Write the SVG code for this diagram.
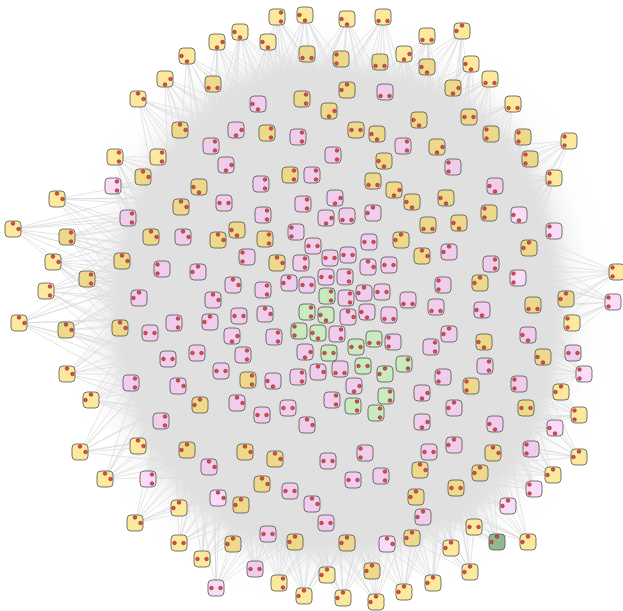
<svg xmlns="http://www.w3.org/2000/svg" width="623" height="611" viewBox="0 0 623 611">
<style>
.e{fill:none;stroke:#d8d8d8;stroke-width:.7}
.y{fill:#fce99d}.k{fill:#eed98b}.p{fill:#f0cdec}.l{fill:#fadcf8}.g{fill:#c9ebbf}.d{fill:#8fb98f}
</style>
<defs>
<filter id="soft" x="-15%" y="-15%" width="130%" height="130%"><feGaussianBlur stdDeviation="7"/></filter>
<filter id="soft2" x="-15%" y="-15%" width="130%" height="130%"><feGaussianBlur stdDeviation="12"/></filter>
<rect id="b" x="-8" y="-8" width="16" height="16" rx="4" stroke="#555" stroke-opacity=".8" stroke-width="1"/>
<g id="d1" fill="#e5484d" stroke="#7d2b2b" stroke-width=".6"><circle cx="4" cy="-4.5" r="1.8"/><circle cx="4" cy="4.5" r="1.8"/></g>
<g id="d2" fill="#e5484d" stroke="#7d2b2b" stroke-width=".6"><circle cx="-5.5" cy="0" r="1.8"/><circle cx="0" cy="5.5" r="1.8"/></g>
<g id="d3" fill="#e5484d" stroke="#7d2b2b" stroke-width=".6"><circle cx="5.5" cy="0" r="1.8"/><circle cx="0" cy="5.5" r="1.8"/></g>
<g id="d4" fill="#e5484d" stroke="#7d2b2b" stroke-width=".6"><circle cx="-4.5" cy="4" r="1.8"/><circle cx="4.5" cy="4" r="1.8"/></g>
<g id="d5" fill="#e5484d" stroke="#7d2b2b" stroke-width=".6"><circle cx="0" cy="-5.5" r="1.8"/><circle cx="5.5" cy="0" r="1.8"/></g>
<g id="d6" fill="#e5484d" stroke="#7d2b2b" stroke-width=".6"><circle cx="-4.5" cy="0" r="1.8"/><circle cx="4.5" cy="0" r="1.8"/></g>
<g id="d7" fill="#e5484d" stroke="#7d2b2b" stroke-width=".6"><circle cx="0" cy="-5.5" r="1.8"/><circle cx="-5.5" cy="0" r="1.8"/></g>
<g id="d8" fill="#e5484d" stroke="#7d2b2b" stroke-width=".6"><circle cx="-4.5" cy="-4.5" r="1.8"/><circle cx="-4.5" cy="4.5" r="1.8"/></g>
</defs>
<rect width="623" height="611" fill="#fff"/>
<g id="connectors">
<path class="e" d="M434 255L277 17L390 211M330 195L277 17L270 211M226 255L277 17L330 315M447 198L277 17L373 156M287 156L277 17L213 198"/>
<path class="e" d="M434 255L305 15L390 211M330 195L305 15L270 211M226 255L305 15L330 315M447 198L305 15L373 156M287 156L305 15L213 198"/>
<path class="e" d="M434 255L347 19L390 211M330 195L347 19L270 211M226 255L347 19L330 315M447 198L347 19L373 156M287 156L347 19L213 198"/>
<path class="e" d="M434 255L383 17L390 211M330 195L383 17L270 211M226 255L383 17L330 315M447 198L383 17L373 156M287 156L383 17L213 198"/>
<path class="e" d="M434 255L268 42L390 211M330 195L268 42L270 211M226 255L268 42L330 315M447 198L268 42L373 156M287 156L268 42L213 198"/>
<path class="e" d="M434 255L307 54L390 211M330 195L307 54L270 211M226 255L307 54L330 315M447 198L307 54L373 156M287 156L307 54L213 198"/>
<path class="e" d="M434 255L341 59L390 211M330 195L341 59L270 211M226 255L341 59L330 315M447 198L341 59L373 156M287 156L341 59L213 198"/>
<path class="e" d="M434 255L380 62L390 211M330 195L380 62L270 211M226 255L380 62L330 315M447 198L380 62L373 156M287 156L380 62L213 198"/>
<path class="e" d="M434 255L347 90L390 211M330 195L347 90L270 211M226 255L347 90L330 315M447 198L347 90L373 156M287 156L347 90L213 198"/>
<path class="e" d="M434 255L302 99L390 211M330 195L302 99L270 211M226 255L302 99L330 315M447 198L302 99L373 156M287 156L302 99L213 198"/>
<path class="e" d="M390 211L240 32L330 195M270 211L240 32L226 255M210 315L240 32L330 315M373 156L240 32L287 156M213 198L240 32L171 272"/>
<path class="e" d="M390 211L217 42L330 195M270 211L217 42L226 255M210 315L217 42L330 315M373 156L217 42L287 156M213 198L217 42L171 272"/>
<path class="e" d="M390 211L187 56L330 195M270 211L187 56L226 255M210 315L187 56L330 315M373 156L187 56L287 156M213 198L187 56L171 272"/>
<path class="e" d="M390 211L165 79L330 195M270 211L165 79L226 255M210 315L165 79L330 315M373 156L165 79L287 156M213 198L165 79L171 272"/>
<path class="e" d="M390 211L213 84L330 195M270 211L213 84L226 255M210 315L213 84L330 315M373 156L213 84L287 156M213 198L213 84L171 272"/>
<path class="e" d="M390 211L138 99L330 195M270 211L138 99L226 255M210 315L138 99L330 315M373 156L138 99L287 156M213 198L138 99L171 272"/>
<path class="e" d="M390 211L180 130L330 195M270 211L180 130L226 255M210 315L180 130L330 315M373 156L180 130L287 156M213 198L180 130L171 272"/>
<path class="e" d="M450 315L427 36L434 255M390 211L427 36L330 195M270 211L427 36L330 315M489 272L427 36L447 198M373 156L427 36L287 156"/>
<path class="e" d="M450 315L462 31L434 255M390 211L462 31L330 195M270 211L462 31L330 315M489 272L462 31L447 198M373 156L462 31L287 156"/>
<path class="e" d="M450 315L404 54L434 255M390 211L404 54L330 195M270 211L404 54L330 315M489 272L404 54L447 198M373 156L404 54L287 156"/>
<path class="e" d="M450 315L427 67L434 255M390 211L427 67L330 195M270 211L427 67L330 315M489 272L427 67L447 198M373 156L427 67L287 156"/>
<path class="e" d="M450 315L471 64L434 255M390 211L471 64L330 195M270 211L471 64L330 315M489 272L471 64L447 198M373 156L471 64L287 156"/>
<path class="e" d="M450 315L490 79L434 255M390 211L490 79L330 195M270 211L490 79L330 315M489 272L490 79L447 198M373 156L490 79L287 156"/>
<path class="e" d="M450 315L453 88L434 255M390 211L453 88L330 195M270 211L453 88L330 315M489 272L453 88L447 198M373 156L453 88L287 156"/>
<path class="e" d="M450 315L513 104L434 255M390 211L513 104L330 195M270 211L513 104L330 315M489 272L513 104L447 198M373 156L513 104L287 156"/>
<path class="e" d="M450 315L469 117L434 255M390 211L469 117L330 195M270 211L469 117L330 315M489 272L469 117L447 198M373 156L469 117L287 156"/>
<path class="e" d="M450 315L491 134L434 255M390 211L491 134L330 195M270 211L491 134L330 315M489 272L491 134L447 198M373 156L491 134L287 156"/>
<path class="e" d="M434 375L523 137L450 315M434 255L523 137L390 211M330 195L523 137L330 315M489 358L523 137L489 272M447 198L523 137L373 156"/>
<path class="e" d="M434 375L569 141L450 315M434 255L569 141L390 211M330 195L569 141L330 315M489 358L569 141L489 272M447 198L569 141L373 156"/>
<path class="e" d="M434 375L530 159L450 315M434 255L530 159L390 211M330 195L530 159L330 315M489 358L530 159L489 272M447 198L530 159L373 156"/>
<path class="e" d="M434 375L554 178L450 315M434 255L554 178L390 211M330 195L554 178L330 315M489 358L554 178L489 272M447 198L554 178L373 156"/>
<path class="e" d="M434 375L554 231L450 315M434 255L554 231L390 211M330 195L554 231L330 315M489 358L554 231L489 272M447 198L554 231L373 156"/>
<path class="e" d="M434 375L529 248L450 315M434 255L529 248L390 211M330 195L529 248L330 315M489 358L529 248L489 272M447 198L529 248L373 156"/>
<path class="e" d="M330 195L115 157L270 211M226 255L115 157L210 315M226 375L115 157L330 315M287 156L115 157L213 198M171 272L115 157L171 358"/>
<path class="e" d="M330 195L158 157L270 211M226 255L158 157L210 315M226 375L158 157L330 315M287 156L158 157L213 198M171 272L158 157L171 358"/>
<path class="e" d="M330 195L143 177L270 211M226 255L143 177L210 315M226 375L143 177L330 315M287 156L143 177L213 198M171 272L143 177L171 358"/>
<path class="e" d="M330 195L113 186L270 211M226 255L113 186L210 315M226 375L113 186L330 315M287 156L113 186L213 198M171 272L113 186L171 358"/>
<path class="e" d="M330 195L57 199L270 211M226 255L57 199L210 315M226 375L57 199L330 315M287 156L57 199L213 198M171 272L57 199L171 358"/>
<path class="e" d="M330 195L128 218L270 211M226 255L128 218L210 315M226 375L128 218L330 315M287 156L128 218L213 198M171 272L128 218L171 358"/>
<path class="e" d="M330 195L13 229L270 211M226 255L13 229L210 315M226 375L13 229L330 315M287 156L13 229L213 198M171 272L13 229L171 358"/>
<path class="e" d="M330 195L67 237L270 211M226 255L67 237L210 315M226 375L67 237L330 315M287 156L67 237L213 198M171 272L67 237L171 358"/>
<path class="e" d="M270 211L53 262L226 255M210 315L53 262L226 375M270 419L53 262L330 315M213 198L53 262L171 272M171 358L53 262L213 432"/>
<path class="e" d="M270 211L122 261L226 255M210 315L122 261L226 375M270 419L122 261L330 315M213 198L122 261L171 272M171 358L122 261L213 432"/>
<path class="e" d="M270 211L87 279L226 255M210 315L87 279L226 375M270 419L87 279L330 315M213 198L87 279L171 272M171 358L87 279L213 432"/>
<path class="e" d="M270 211L46 291L226 255M210 315L46 291L226 375M270 419L46 291L330 315M213 198L46 291L171 272M171 358L46 291L213 432"/>
<path class="e" d="M270 211L19 323L226 255M210 315L19 323L226 375M270 419L19 323L330 315M213 198L19 323L171 272M171 358L19 323L213 432"/>
<path class="e" d="M270 211L66 330L226 255M210 315L66 330L226 375M270 419L66 330L330 315M213 198L66 330L171 272M171 358L66 330L213 432"/>
<path class="e" d="M270 211L120 328L226 255M210 315L120 328L226 375M270 419L120 328L330 315M213 198L120 328L171 272M171 358L120 328L213 432"/>
<path class="e" d="M270 211L67 374L226 255M210 315L67 374L226 375M270 419L67 374L330 315M213 198L67 374L171 272M171 358L67 374L213 432"/>
<path class="e" d="M390 419L617 272L434 375M450 315L617 272L434 255M390 211L617 272L330 315M447 432L617 272L489 358M489 272L617 272L447 198"/>
<path class="e" d="M390 419L566 299L434 375M450 315L566 299L434 255M390 211L566 299L330 315M447 432L566 299L489 358M489 272L566 299L447 198"/>
<path class="e" d="M390 419L613 302L434 375M450 315L613 302L434 255M390 211L613 302L330 315M447 432L613 302L489 358M489 272L613 302L447 198"/>
<path class="e" d="M390 419L572 323L434 375M450 315L572 323L434 255M390 211L572 323L330 315M447 432L572 323L489 358M489 272L572 323L447 198"/>
<path class="e" d="M390 419L573 353L434 375M450 315L573 353L434 255M390 211L573 353L330 315M447 432L573 353L489 358M489 272L573 353L447 198"/>
<path class="e" d="M390 419L584 374L434 375M450 315L584 374L434 255M390 211L584 374L330 315M447 432L584 374L489 358M489 272L584 374L447 198"/>
<path class="e" d="M226 255L131 383L210 315M226 375L131 383L270 419M330 435L131 383L330 315M171 272L131 383L171 358M213 432L131 383L287 474"/>
<path class="e" d="M226 255L91 400L210 315M226 375L91 400L270 419M330 435L91 400L330 315M171 272L91 400L171 358M213 432L91 400L287 474"/>
<path class="e" d="M226 255L80 452L210 315M226 375L80 452L270 419M330 435L80 452L330 315M171 272L80 452L171 358M213 432L80 452L287 474"/>
<path class="e" d="M226 255L138 446L210 315M226 375L138 446L270 419M330 435L138 446L330 315M171 272L138 446L171 358M213 432L138 446L287 474"/>
<path class="e" d="M226 255L105 479L210 315M226 375L105 479L270 419M330 435L105 479L330 315M171 272L105 479L171 358M213 432L105 479L287 474"/>
<path class="e" d="M226 255L148 479L210 315M226 375L148 479L270 419M330 435L148 479L330 315M171 272L148 479L171 358M213 432L148 479L287 474"/>
<path class="e" d="M330 435L561 392L390 419M434 375L561 392L450 315M434 255L561 392L330 315M373 474L561 392L447 432M489 358L561 392L489 272"/>
<path class="e" d="M330 435L579 415L390 419M434 375L579 415L450 315M434 255L579 415L330 315M373 474L579 415L447 432M489 358L579 415L489 272"/>
<path class="e" d="M330 435L555 428L390 419M434 375L555 428L450 315M434 255L555 428L330 315M373 474L555 428L447 432M489 358L555 428L489 272"/>
<path class="e" d="M330 435L579 457L390 419M434 375L579 457L450 315M434 255L579 457L330 315M373 474L579 457L447 432M489 358L579 457L489 272"/>
<path class="e" d="M330 435L553 475L390 419M434 375L553 475L450 315M434 255L553 475L330 315M373 474L553 475L447 432M489 358L553 475L489 272"/>
<path class="e" d="M330 435L534 489L390 419M434 375L534 489L450 315M434 255L534 489L330 315M373 474L534 489L447 432M489 358L534 489L489 272"/>
<path class="e" d="M330 435L531 449L390 419M434 375L531 449L450 315M434 255L531 449L330 315M373 474L531 449L447 432M489 358L531 449L489 272"/>
<path class="e" d="M270 419L508 506L330 435M390 419L508 506L434 375M450 315L508 506L330 315M287 474L508 506L373 474M447 432L508 506L489 358"/>
<path class="e" d="M270 419L474 527L330 435M390 419L474 527L434 375M450 315L474 527L330 315M287 474L474 527L373 474M447 432L474 527L489 358"/>
<path class="e" d="M270 419L497 542L330 435M390 419L497 542L434 375M450 315L497 542L330 315M287 474L497 542L373 474M447 432L497 542L489 358"/>
<path class="e" d="M270 419L528 542L330 435M390 419L528 542L434 375M450 315L528 542L330 315M287 474L528 542L373 474M447 432L528 542L489 358"/>
<path class="e" d="M270 419L451 548L330 435M390 419L451 548L434 375M450 315L451 548L330 315M287 474L451 548L373 474M447 432L451 548L489 358"/>
<path class="e" d="M270 419L470 572L330 435M390 419L470 572L434 375M450 315L470 572L330 315M287 474L470 572L373 474M447 432L470 572L489 358"/>
<path class="e" d="M270 419L433 583L330 435M390 419L433 583L434 375M450 315L433 583L330 315M287 474L433 583L373 474M447 432L433 583L489 358"/>
<path class="e" d="M270 419L404 592L330 435M390 419L404 592L434 375M450 315L404 592L330 315M287 474L404 592L373 474M447 432L404 592L489 358"/>
<path class="e" d="M270 419L412 538L330 435M390 419L412 538L434 375M450 315L412 538L330 315M287 474L412 538L373 474M447 432L412 538L489 358"/>
<path class="e" d="M210 315L179 508L226 375M270 419L179 508L330 435M390 419L179 508L330 315M171 358L179 508L213 432M287 474L179 508L373 474"/>
<path class="e" d="M210 315L135 523L226 375M270 419L135 523L330 435M390 419L135 523L330 315M171 358L135 523L213 432M287 474L135 523L373 474"/>
<path class="e" d="M210 315L233 544L226 375M270 419L233 544L330 435M390 419L233 544L330 315M171 358L233 544L213 432M287 474L233 544L373 474"/>
<path class="e" d="M210 315L179 543L226 375M270 419L179 543L330 435M390 419L179 543L330 315M171 358L179 543L213 432M287 474L179 543L373 474"/>
<path class="e" d="M210 315L202 559L226 375M270 419L202 559L330 435M390 419L202 559L330 315M171 358L202 559L213 432M287 474L202 559L373 474"/>
<path class="e" d="M210 315L255 569L226 375M270 419L255 569L330 435M390 419L255 569L330 315M171 358L255 569L213 432M287 474L255 569L373 474"/>
<path class="e" d="M210 315L216 588L226 375M270 419L216 588L330 435M390 419L216 588L330 315M171 358L216 588L213 432M287 474L216 588L373 474"/>
<path class="e" d="M226 375L327 575L270 419M330 435L327 575L390 419M434 375L327 575L330 315M213 432L327 575L287 474M373 474L327 575L447 432"/>
<path class="e" d="M226 375L372 571L270 419M330 435L372 571L390 419M434 375L372 571L330 315M213 432L372 571L287 474M373 474L372 571L447 432"/>
<path class="e" d="M226 375L279 583L270 419M330 435L279 583L390 419M434 375L279 583L330 315M213 432L279 583L287 474M373 474L279 583L447 432"/>
<path class="e" d="M226 375L304 596L270 419M330 435L304 596L390 419M434 375L304 596L330 315M213 432L304 596L287 474M373 474L304 596L447 432"/>
<path class="e" d="M226 375L343 598L270 419M330 435L343 598L390 419M434 375L343 598L330 315M213 432L343 598L287 474M373 474L343 598L447 432"/>
<path class="e" d="M226 375L376 602L270 419M330 435L376 602L390 419M434 375L376 602L330 315M213 432L376 602L287 474M373 474L376 602L447 432"/>
<path class="e" d="M226 375L295 542L270 419M330 435L295 542L390 419M434 375L295 542L330 315M213 432L295 542L287 474M373 474L295 542L447 432"/>
<path class="e" d="M226 375L347 543L270 419M330 435L347 543L390 419M434 375L347 543L330 315M213 432L347 543L287 474M373 474L347 543L447 432"/>
<path class="e" d="M226 375L387 544L270 419M330 435L387 544L390 419M434 375L387 544L330 315M213 432L387 544L287 474M373 474L387 544L447 432"/>
<path id="haze" d="M217 69L285 41L352 46L419 57L475 80L520 119L553 169L574 231L582 298L576 365L559 427L531 483L486 528L430 556L363 573L296 573L234 556L184 522L145 477L117 421L96 360L92 293L103 231L128 169L167 113Z" fill="#e0e0e0" fill-opacity=".4" filter="url(#soft2)"/>
<path id="core" d="M226 86L288 60L351 65L413 76L465 97L507 133L538 180L557 237L565 299L559 362L543 419L517 471L475 513L423 539L361 554L299 554L241 539L195 507L158 466L132 414L113 357L109 294L120 237L143 180L179 128Z" fill="#e0e0e0" filter="url(#soft)"/>
</g>
<g id="nodes">
<g id="n1" transform="translate(277 17)"><use href="#b" class="y"/><use href="#d1"/></g>
<g id="n2" transform="translate(305 15)"><use href="#b" class="y"/><use href="#d2"/></g>
<g id="n3" transform="translate(347 19)"><use href="#b" class="y"/><use href="#d2"/></g>
<g id="n4" transform="translate(383 17)"><use href="#b" class="y"/><use href="#d4"/></g>
<g id="n5" transform="translate(240 32)"><use href="#b" class="y"/><use href="#d2"/></g>
<g id="n6" transform="translate(268 42)"><use href="#b" class="y"/><use href="#d2"/></g>
<g id="n7" transform="translate(217 42)"><use href="#b" class="y"/><use href="#d3"/></g>
<g id="n8" transform="translate(427 36)"><use href="#b" class="y"/><use href="#d4"/></g>
<g id="n9" transform="translate(462 31)"><use href="#b" class="y"/><use href="#d7"/></g>
<g id="n10" transform="translate(307 54)"><use href="#b" class="k"/><use href="#d4"/></g>
<g id="n11" transform="translate(187 56)"><use href="#b" class="y"/><use href="#d2"/></g>
<g id="n12" transform="translate(341 59)"><use href="#b" class="k"/><use href="#d8"/></g>
<g id="n13" transform="translate(380 62)"><use href="#b" class="k"/><use href="#d4"/></g>
<g id="n14" transform="translate(404 54)"><use href="#b" class="y"/><use href="#d3"/></g>
<g id="n15" transform="translate(427 67)"><use href="#b" class="k"/><use href="#d2"/></g>
<g id="n16" transform="translate(471 64)"><use href="#b" class="y"/><use href="#d2"/></g>
<g id="n17" transform="translate(165 79)"><use href="#b" class="y"/><use href="#d3"/></g>
<g id="n18" transform="translate(213 84)"><use href="#b" class="k"/><use href="#d4"/></g>
<g id="n19" transform="translate(490 79)"><use href="#b" class="y"/><use href="#d4"/></g>
<g id="n20" transform="translate(347 90)"><use href="#b" class="k"/><use href="#d7"/></g>
<g id="n21" transform="translate(385 92)"><use href="#b" class="p"/><use href="#d4"/></g>
<g id="n22" transform="translate(453 88)"><use href="#b" class="k"/><use href="#d3"/></g>
<g id="n23" transform="translate(138 99)"><use href="#b" class="y"/><use href="#d5"/></g>
<g id="n24" transform="translate(302 99)"><use href="#b" class="k"/><use href="#d1"/></g>
<g id="n25" transform="translate(258 104)"><use href="#b" class="p"/><use href="#d2"/></g>
<g id="n26" transform="translate(513 104)"><use href="#b" class="y"/><use href="#d4"/></g>
<g id="n27" transform="translate(329 111)"><use href="#b" class="k"/><use href="#d3"/></g>
<g id="n28" transform="translate(419 120)"><use href="#b" class="k"/><use href="#d2"/></g>
<g id="n29" transform="translate(469 117)"><use href="#b" class="k"/><use href="#d6"/></g>
<g id="n30" transform="translate(180 130)"><use href="#b" class="k"/><use href="#d5"/></g>
<g id="n31" transform="translate(236 130)"><use href="#b" class="p"/><use href="#d3"/></g>
<g id="n32" transform="translate(267 133)"><use href="#b" class="k"/><use href="#d1"/></g>
<g id="n33" transform="translate(298 137)"><use href="#b" class="p"/><use href="#d1"/></g>
<g id="n34" transform="translate(356 130)"><use href="#b" class="k"/><use href="#d6"/></g>
<g id="n35" transform="translate(377 134)"><use href="#b" class="k"/><use href="#d2"/></g>
<g id="n36" transform="translate(491 134)"><use href="#b" class="k"/><use href="#d8"/></g>
<g id="n37" transform="translate(523 137)"><use href="#b" class="k"/><use href="#d8"/></g>
<g id="n38" transform="translate(569 141)"><use href="#b" class="y"/><use href="#d8"/></g>
<g id="n39" transform="translate(211 146)"><use href="#b" class="p"/><use href="#d1"/></g>
<g id="n40" transform="translate(403 146)"><use href="#b" class="p"/><use href="#d1"/></g>
<g id="n41" transform="translate(437 147)"><use href="#b" class="k"/><use href="#d3"/></g>
<g id="n42" transform="translate(115 157)"><use href="#b" class="y"/><use href="#d1"/></g>
<g id="n43" transform="translate(158 157)"><use href="#b" class="y"/><use href="#d1"/></g>
<g id="n44" transform="translate(333 155)"><use href="#b" class="p"/><use href="#d1"/></g>
<g id="n45" transform="translate(226 165)"><use href="#b" class="p"/><use href="#d3"/></g>
<g id="n46" transform="translate(530 159)"><use href="#b" class="k"/><use href="#d8"/></g>
<g id="n47" transform="translate(384 161)"><use href="#b" class="k"/><use href="#d2"/></g>
<g id="n48" transform="translate(453 167)"><use href="#b" class="p"/><use href="#d8"/></g>
<g id="n49" transform="translate(143 177)"><use href="#b" class="k"/><use href="#d5"/></g>
<g id="n50" transform="translate(290 175)"><use href="#b" class="k"/><use href="#d1"/></g>
<g id="n51" transform="translate(312 175)"><use href="#b" class="p"/><use href="#d1"/></g>
<g id="n52" transform="translate(554 178)"><use href="#b" class="y"/><use href="#d8"/></g>
<g id="n53" transform="translate(373 181)"><use href="#b" class="k"/><use href="#d4"/></g>
<g id="n54" transform="translate(113 186)"><use href="#b" class="l"/><use href="#d1"/></g>
<g id="n55" transform="translate(199 187)"><use href="#b" class="k"/><use href="#d2"/></g>
<g id="n56" transform="translate(261 184)"><use href="#b" class="p"/><use href="#d1"/></g>
<g id="n57" transform="translate(394 190)"><use href="#b" class="k"/><use href="#d3"/></g>
<g id="n58" transform="translate(495 186)"><use href="#b" class="p"/><use href="#d2"/></g>
<g id="n59" transform="translate(57 199)"><use href="#b" class="y"/><use href="#d5"/></g>
<g id="n60" transform="translate(181 207)"><use href="#b" class="k"/><use href="#d5"/></g>
<g id="n61" transform="translate(224 203)"><use href="#b" class="p"/><use href="#d6"/></g>
<g id="n62" transform="translate(303 204)"><use href="#b" class="p"/><use href="#d1"/></g>
<g id="n63" transform="translate(335 198)"><use href="#b" class="p"/><use href="#d3"/></g>
<g id="n64" transform="translate(412 202)"><use href="#b" class="k"/><use href="#d2"/></g>
<g id="n65" transform="translate(446 198)"><use href="#b" class="k"/><use href="#d2"/></g>
<g id="n66" transform="translate(128 218)"><use href="#b" class="p"/><use href="#d1"/></g>
<g id="n67" transform="translate(263 215)"><use href="#b" class="p"/><use href="#d1"/></g>
<g id="n68" transform="translate(373 213)"><use href="#b" class="p"/><use href="#d7"/></g>
<g id="n69" transform="translate(326 218)"><use href="#b" class="p"/><use href="#d3"/></g>
<g id="n70" transform="translate(347 216)"><use href="#b" class="p"/><use href="#d4"/></g>
<g id="n71" transform="translate(489 213)"><use href="#b" class="k"/><use href="#d8"/></g>
<g id="n72" transform="translate(519 215)"><use href="#b" class="l"/><use href="#d2"/></g>
<g id="n73" transform="translate(13 229)"><use href="#b" class="y"/><use href="#d5"/></g>
<g id="n74" transform="translate(67 237)"><use href="#b" class="k"/><use href="#d1"/></g>
<g id="n75" transform="translate(151 237)"><use href="#b" class="k"/><use href="#d5"/></g>
<g id="n76" transform="translate(183 237)"><use href="#b" class="p"/><use href="#d5"/></g>
<g id="n77" transform="translate(237 230)"><use href="#b" class="k"/><use href="#d2"/></g>
<g id="n78" transform="translate(218 240)"><use href="#b" class="k"/><use href="#d5"/></g>
<g id="n79" transform="translate(265 239)"><use href="#b" class="k"/><use href="#d1"/></g>
<g id="n80" transform="translate(296 232)"><use href="#b" class="p"/><use href="#d8"/></g>
<g id="n81" transform="translate(428 225)"><use href="#b" class="k"/><use href="#d4"/></g>
<g id="n82" transform="translate(459 223)"><use href="#b" class="k"/><use href="#d2"/></g>
<g id="n83" transform="translate(554 231)"><use href="#b" class="l"/><use href="#d8"/></g>
<g id="n84" transform="translate(313 246)"><use href="#b" class="p"/><use href="#d6"/></g>
<g id="n85" transform="translate(369 242)"><use href="#b" class="p"/><use href="#d6"/></g>
<g id="n86" transform="translate(401 240)"><use href="#b" class="k"/><use href="#d7"/></g>
<g id="n87" transform="translate(529 248)"><use href="#b" class="k"/><use href="#d7"/></g>
<g id="n88" transform="translate(449 252)"><use href="#b" class="p"/><use href="#d7"/></g>
<g id="n89" transform="translate(247 257)"><use href="#b" class="p"/><use href="#d8"/></g>
<g id="n90" transform="translate(277 263)"><use href="#b" class="k"/><use href="#d5"/></g>
<g id="n91" transform="translate(301 263)"><use href="#b" class="p"/><use href="#d1"/></g>
<g id="n92" transform="translate(348 255)"><use href="#b" class="p"/><use href="#d6"/></g>
<g id="n93" transform="translate(330 258)"><use href="#b" class="p"/><use href="#d6"/></g>
<g id="n94" transform="translate(422 256)"><use href="#b" class="k"/><use href="#d5"/></g>
<g id="n95" transform="translate(368 267)"><use href="#b" class="p"/><use href="#d5"/></g>
<g id="n96" transform="translate(389 265)"><use href="#b" class="p"/><use href="#d6"/></g>
<g id="n97" transform="translate(491 264)"><use href="#b" class="p"/><use href="#d1"/></g>
<g id="n98" transform="translate(53 262)"><use href="#b" class="y"/><use href="#d5"/></g>
<g id="n99" transform="translate(122 261)"><use href="#b" class="k"/><use href="#d5"/></g>
<g id="n100" transform="translate(162 269)"><use href="#b" class="p"/><use href="#d8"/></g>
<g id="n101" transform="translate(198 272)"><use href="#b" class="p"/><use href="#d7"/></g>
<g id="n102" transform="translate(326 277)"><use href="#b" class="p"/><use href="#d6"/></g>
<g id="n103" transform="translate(345 277)"><use href="#b" class="p"/><use href="#d1"/></g>
<g id="n104" transform="translate(443 285)"><use href="#b" class="p"/><use href="#d8"/></g>
<g id="n105" transform="translate(480 283)"><use href="#b" class="k"/><use href="#d7"/></g>
<g id="n106" transform="translate(518 278)"><use href="#b" class="l"/><use href="#d8"/></g>
<g id="n107" transform="translate(617 272)"><use href="#b" class="y"/><use href="#d8"/></g>
<g id="n108" transform="translate(87 279)"><use href="#b" class="k"/><use href="#d1"/></g>
<g id="n109" transform="translate(233 285)"><use href="#b" class="p"/><use href="#d5"/></g>
<g id="n110" transform="translate(263 290)"><use href="#b" class="p"/><use href="#d1"/></g>
<g id="n111" transform="translate(289 283)"><use href="#b" class="p"/><use href="#d7"/></g>
<g id="n112" transform="translate(307 285)"><use href="#b" class="p"/><use href="#d6"/></g>
<g id="n113" transform="translate(46 291)"><use href="#b" class="y"/><use href="#d1"/></g>
<g id="n114" transform="translate(139 298)"><use href="#b" class="p"/><use href="#d7"/></g>
<g id="n115" transform="translate(213 300)"><use href="#b" class="p"/><use href="#d5"/></g>
<g id="n116" transform="translate(327 296)"><use href="#b" class="g"/><use href="#d1"/></g>
<g id="n117" transform="translate(346 298)"><use href="#b" class="p"/><use href="#d1"/></g>
<g id="n118" transform="translate(364 293)"><use href="#b" class="p"/><use href="#d7"/></g>
<g id="n119" transform="translate(382 292)"><use href="#b" class="p"/><use href="#d6"/></g>
<g id="n120" transform="translate(408 300)"><use href="#b" class="p"/><use href="#d4"/></g>
<g id="n121" transform="translate(436 307)"><use href="#b" class="p"/><use href="#d4"/></g>
<g id="n122" transform="translate(482 310)"><use href="#b" class="p"/><use href="#d2"/></g>
<g id="n123" transform="translate(533 305)"><use href="#b" class="k"/><use href="#d4"/></g>
<g id="n124" transform="translate(566 299)"><use href="#b" class="k"/><use href="#d7"/></g>
<g id="n125" transform="translate(613 302)"><use href="#b" class="l"/><use href="#d8"/></g>
<g id="n126" transform="translate(307 312)"><use href="#b" class="g"/><use href="#d1"/></g>
<g id="n127" transform="translate(326 315)"><use href="#b" class="g"/><use href="#d2"/></g>
<g id="n128" transform="translate(348 317)"><use href="#b" class="p"/><use href="#d5"/></g>
<g id="n129" transform="translate(367 312)"><use href="#b" class="p"/><use href="#d2"/></g>
<g id="n130" transform="translate(389 315)"><use href="#b" class="p"/><use href="#d4"/></g>
<g id="n131" transform="translate(239 316)"><use href="#b" class="p"/><use href="#d6"/></g>
<g id="n132" transform="translate(265 314)"><use href="#b" class="p"/><use href="#d5"/></g>
<g id="n133" transform="translate(210 322)"><use href="#b" class="p"/><use href="#d7"/></g>
<g id="n134" transform="translate(174 323)"><use href="#b" class="p"/><use href="#d1"/></g>
<g id="n135" transform="translate(19 323)"><use href="#b" class="y"/><use href="#d5"/></g>
<g id="n136" transform="translate(66 330)"><use href="#b" class="k"/><use href="#d5"/></g>
<g id="n137" transform="translate(120 328)"><use href="#b" class="k"/><use href="#d5"/></g>
<g id="n138" transform="translate(150 333)"><use href="#b" class="p"/><use href="#d6"/></g>
<g id="n139" transform="translate(572 323)"><use href="#b" class="y"/><use href="#d8"/></g>
<g id="n140" transform="translate(299 331)"><use href="#b" class="g"/><use href="#d8"/></g>
<g id="n141" transform="translate(318 333)"><use href="#b" class="g"/><use href="#d2"/></g>
<g id="n142" transform="translate(337 334)"><use href="#b" class="p"/><use href="#d1"/></g>
<g id="n143" transform="translate(232 336)"><use href="#b" class="p"/><use href="#d3"/></g>
<g id="n144" transform="translate(274 337)"><use href="#b" class="p"/><use href="#d1"/></g>
<g id="n145" transform="translate(356 347)"><use href="#b" class="g"/><use href="#d6"/></g>
<g id="n146" transform="translate(374 339)"><use href="#b" class="g"/><use href="#d4"/></g>
<g id="n147" transform="translate(393 342)"><use href="#b" class="p"/><use href="#d8"/></g>
<g id="n148" transform="translate(449 334)"><use href="#b" class="p"/><use href="#d7"/></g>
<g id="n149" transform="translate(484 342)"><use href="#b" class="k"/><use href="#d2"/></g>
<g id="n150" transform="translate(528 335)"><use href="#b" class="p"/><use href="#d2"/></g>
<g id="n151" transform="translate(431 347)"><use href="#b" class="p"/><use href="#d1"/></g>
<g id="n152" transform="translate(305 352)"><use href="#b" class="p"/><use href="#d3"/></g>
<g id="n153" transform="translate(329 353)"><use href="#b" class="g"/><use href="#d6"/></g>
<g id="n154" transform="translate(168 359)"><use href="#b" class="p"/><use href="#d6"/></g>
<g id="n155" transform="translate(197 353)"><use href="#b" class="p"/><use href="#d6"/></g>
<g id="n156" transform="translate(243 355)"><use href="#b" class="p"/><use href="#d1"/></g>
<g id="n157" transform="translate(573 353)"><use href="#b" class="p"/><use href="#d6"/></g>
<g id="n158" transform="translate(543 357)"><use href="#b" class="k"/><use href="#d2"/></g>
<g id="n159" transform="translate(363 366)"><use href="#b" class="g"/><use href="#d6"/></g>
<g id="n160" transform="translate(404 364)"><use href="#b" class="g"/><use href="#d1"/></g>
<g id="n161" transform="translate(385 374)"><use href="#b" class="g"/><use href="#d7"/></g>
<g id="n162" transform="translate(221 371)"><use href="#b" class="p"/><use href="#d6"/></g>
<g id="n163" transform="translate(248 380)"><use href="#b" class="k"/><use href="#d1"/></g>
<g id="n164" transform="translate(273 381)"><use href="#b" class="p"/><use href="#d2"/></g>
<g id="n165" transform="translate(298 377)"><use href="#b" class="p"/><use href="#d1"/></g>
<g id="n166" transform="translate(318 372)"><use href="#b" class="p"/><use href="#d5"/></g>
<g id="n167" transform="translate(340 369)"><use href="#b" class="p"/><use href="#d4"/></g>
<g id="n168" transform="translate(485 366)"><use href="#b" class="p"/><use href="#d1"/></g>
<g id="n169" transform="translate(584 374)"><use href="#b" class="l"/><use href="#d8"/></g>
<g id="n170" transform="translate(443 377)"><use href="#b" class="p"/><use href="#d8"/></g>
<g id="n171" transform="translate(67 374)"><use href="#b" class="y"/><use href="#d5"/></g>
<g id="n172" transform="translate(131 383)"><use href="#b" class="p"/><use href="#d1"/></g>
<g id="n173" transform="translate(178 386)"><use href="#b" class="p"/><use href="#d5"/></g>
<g id="n174" transform="translate(354 386)"><use href="#b" class="p"/><use href="#d3"/></g>
<g id="n175" transform="translate(471 386)"><use href="#b" class="k"/><use href="#d8"/></g>
<g id="n176" transform="translate(519 384)"><use href="#b" class="p"/><use href="#d8"/></g>
<g id="n177" transform="translate(561 392)"><use href="#b" class="y"/><use href="#d7"/></g>
<g id="n178" transform="translate(386 396)"><use href="#b" class="g"/><use href="#d1"/></g>
<g id="n179" transform="translate(422 393)"><use href="#b" class="p"/><use href="#d3"/></g>
<g id="n180" transform="translate(332 400)"><use href="#b" class="p"/><use href="#d1"/></g>
<g id="n181" transform="translate(353 406)"><use href="#b" class="g"/><use href="#d1"/></g>
<g id="n182" transform="translate(376 413)"><use href="#b" class="g"/><use href="#d1"/></g>
<g id="n183" transform="translate(91 400)"><use href="#b" class="y"/><use href="#d7"/></g>
<g id="n184" transform="translate(200 405)"><use href="#b" class="k"/><use href="#d7"/></g>
<g id="n185" transform="translate(237 403)"><use href="#b" class="p"/><use href="#d5"/></g>
<g id="n186" transform="translate(262 415)"><use href="#b" class="p"/><use href="#d6"/></g>
<g id="n187" transform="translate(288 408)"><use href="#b" class="p"/><use href="#d6"/></g>
<g id="n188" transform="translate(454 408)"><use href="#b" class="p"/><use href="#d7"/></g>
<g id="n189" transform="translate(526 408)"><use href="#b" class="k"/><use href="#d6"/></g>
<g id="n190" transform="translate(579 415)"><use href="#b" class="y"/><use href="#d8"/></g>
<g id="n191" transform="translate(422 422)"><use href="#b" class="p"/><use href="#d3"/></g>
<g id="n192" transform="translate(495 424)"><use href="#b" class="p"/><use href="#d2"/></g>
<g id="n193" transform="translate(555 428)"><use href="#b" class="l"/><use href="#d2"/></g>
<g id="n194" transform="translate(307 425)"><use href="#b" class="p"/><use href="#d5"/></g>
<g id="n195" transform="translate(161 421)"><use href="#b" class="p"/><use href="#d1"/></g>
<g id="n196" transform="translate(454 445)"><use href="#b" class="p"/><use href="#d7"/></g>
<g id="n197" transform="translate(365 453)"><use href="#b" class="p"/><use href="#d8"/></g>
<g id="n198" transform="translate(429 452)"><use href="#b" class="p"/><use href="#d6"/></g>
<g id="n199" transform="translate(493 453)"><use href="#b" class="k"/><use href="#d5"/></g>
<g id="n200" transform="translate(531 449)"><use href="#b" class="p"/><use href="#d8"/></g>
<g id="n201" transform="translate(579 457)"><use href="#b" class="y"/><use href="#d7"/></g>
<g id="n202" transform="translate(80 452)"><use href="#b" class="y"/><use href="#d5"/></g>
<g id="n203" transform="translate(138 446)"><use href="#b" class="y"/><use href="#d5"/></g>
<g id="n204" transform="translate(187 450)"><use href="#b" class="k"/><use href="#d7"/></g>
<g id="n205" transform="translate(245 452)"><use href="#b" class="k"/><use href="#d5"/></g>
<g id="n206" transform="translate(275 459)"><use href="#b" class="k"/><use href="#d5"/></g>
<g id="n207" transform="translate(328 461)"><use href="#b" class="p"/><use href="#d6"/></g>
<g id="n208" transform="translate(420 470)"><use href="#b" class="k"/><use href="#d5"/></g>
<g id="n209" transform="translate(480 473)"><use href="#b" class="k"/><use href="#d7"/></g>
<g id="n210" transform="translate(381 476)"><use href="#b" class="p"/><use href="#d1"/></g>
<g id="n211" transform="translate(553 475)"><use href="#b" class="y"/><use href="#d7"/></g>
<g id="n212" transform="translate(353 480)"><use href="#b" class="p"/><use href="#d6"/></g>
<g id="n213" transform="translate(209 467)"><use href="#b" class="p"/><use href="#d5"/></g>
<g id="n214" transform="translate(105 479)"><use href="#b" class="y"/><use href="#d5"/></g>
<g id="n215" transform="translate(148 479)"><use href="#b" class="l"/><use href="#d1"/></g>
<g id="n216" transform="translate(262 484)"><use href="#b" class="k"/><use href="#d5"/></g>
<g id="n217" transform="translate(290 491)"><use href="#b" class="p"/><use href="#d6"/></g>
<g id="n218" transform="translate(456 488)"><use href="#b" class="k"/><use href="#d6"/></g>
<g id="n219" transform="translate(534 489)"><use href="#b" class="l"/><use href="#d8"/></g>
<g id="n220" transform="translate(416 497)"><use href="#b" class="k"/><use href="#d7"/></g>
<g id="n221" transform="translate(508 506)"><use href="#b" class="l"/><use href="#d7"/></g>
<g id="n222" transform="translate(312 504)"><use href="#b" class="p"/><use href="#d5"/></g>
<g id="n223" transform="translate(218 498)"><use href="#b" class="l"/><use href="#d5"/></g>
<g id="n224" transform="translate(241 505)"><use href="#b" class="k"/><use href="#d7"/></g>
<g id="n225" transform="translate(179 508)"><use href="#b" class="y"/><use href="#d7"/></g>
<g id="n226" transform="translate(423 517)"><use href="#b" class="p"/><use href="#d7"/></g>
<g id="n227" transform="translate(326 523)"><use href="#b" class="p"/><use href="#d6"/></g>
<g id="n228" transform="translate(474 527)"><use href="#b" class="y"/><use href="#d6"/></g>
<g id="n229" transform="translate(135 523)"><use href="#b" class="y"/><use href="#d5"/></g>
<g id="n230" transform="translate(268 534)"><use href="#b" class="p"/><use href="#d6"/></g>
<g id="n231" transform="translate(497 542)"><use href="#b" class="d"/><use href="#d7"/></g>
<g id="n232" transform="translate(528 542)"><use href="#b" class="y"/><use href="#d7"/></g>
<g id="n233" transform="translate(347 543)"><use href="#b" class="k"/><use href="#d7"/></g>
<g id="n234" transform="translate(387 544)"><use href="#b" class="l"/><use href="#d5"/></g>
<g id="n235" transform="translate(412 538)"><use href="#b" class="k"/><use href="#d7"/></g>
<g id="n236" transform="translate(451 548)"><use href="#b" class="y"/><use href="#d7"/></g>
<g id="n237" transform="translate(233 544)"><use href="#b" class="k"/><use href="#d7"/></g>
<g id="n238" transform="translate(295 542)"><use href="#b" class="k"/><use href="#d7"/></g>
<g id="n239" transform="translate(179 543)"><use href="#b" class="y"/><use href="#d6"/></g>
<g id="n240" transform="translate(202 559)"><use href="#b" class="y"/><use href="#d6"/></g>
<g id="n241" transform="translate(255 569)"><use href="#b" class="p"/><use href="#d6"/></g>
<g id="n242" transform="translate(327 575)"><use href="#b" class="y"/><use href="#d7"/></g>
<g id="n243" transform="translate(372 571)"><use href="#b" class="k"/><use href="#d7"/></g>
<g id="n244" transform="translate(470 572)"><use href="#b" class="y"/><use href="#d7"/></g>
<g id="n245" transform="translate(433 583)"><use href="#b" class="y"/><use href="#d7"/></g>
<g id="n246" transform="translate(279 583)"><use href="#b" class="y"/><use href="#d1"/></g>
<g id="n247" transform="translate(216 588)"><use href="#b" class="l"/><use href="#d6"/></g>
<g id="n248" transform="translate(304 596)"><use href="#b" class="y"/><use href="#d7"/></g>
<g id="n249" transform="translate(404 592)"><use href="#b" class="y"/><use href="#d7"/></g>
<g id="n250" transform="translate(343 598)"><use href="#b" class="y"/><use href="#d7"/></g>
<g id="n251" transform="translate(376 602)"><use href="#b" class="y"/><use href="#d7"/></g>
</g>
</svg>
